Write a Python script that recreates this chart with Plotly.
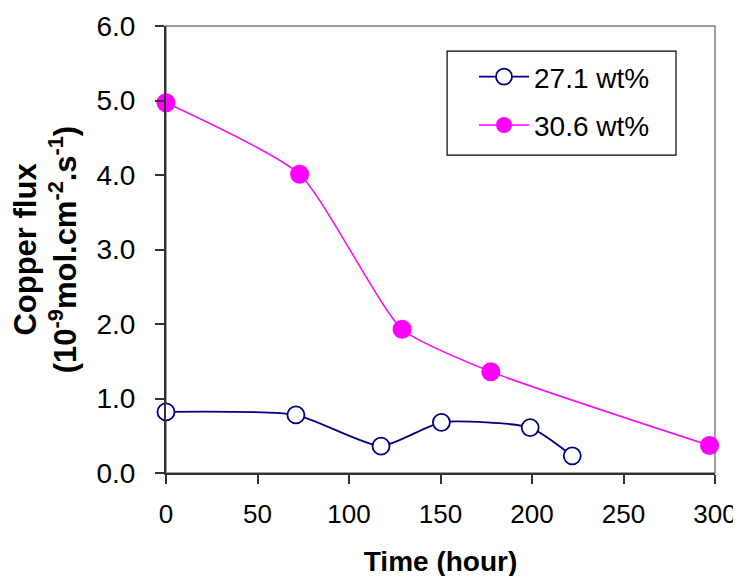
import plotly.graph_objects as go

# Data
time_271 = [0, 71, 117.5, 150.5, 199, 222]
flux_271 = [0.82, 0.78, 0.36, 0.68, 0.61, 0.23]

time_306 = [0, 73, 129, 177.5, 297]
flux_306 = [4.97, 4.01, 1.93, 1.36, 0.37]

x_ticks = [0, 50, 100, 150, 200, 250, 300]
y_ticks = [0, 1, 2, 3, 4, 5, 6]

FONT = "Arial, Liberation Sans, sans-serif"

fig = go.Figure()
fig.add_trace(go.Scatter(
    x=time_271, y=flux_271, name="27.1 wt%", mode="lines+markers",
    legendgroup="a",
    line=dict(color="#000080", width=1.8, shape="spline", smoothing=0.55),
    marker=dict(symbol="circle", size=17, color="white",
                line=dict(color="#000080", width=1.8)),
    cliponaxis=False,
))
fig.add_trace(go.Scatter(
    x=time_306, y=flux_306, name="30.6 wt%", mode="lines+markers",
    legendgroup="b",
    line=dict(color="#FF00FF", width=1.5, shape="spline", smoothing=0.55),
    marker=dict(symbol="circle", size=19, color="#FF00FF",
                line=dict(color="#FF00FF", width=0)),
    cliponaxis=False,
))

# gray frame (top/right)
fig.add_shape(type="rect", xref="paper", yref="paper", x0=0, y0=0, x1=1, y1=1,
              line=dict(color="#808080", width=1.5), layer="below")
# legend box
fig.add_shape(type="rect", xref="paper", yref="paper",
              x0=0.512, x1=0.929, y0=0.711, y1=0.944,
              line=dict(color="black", width=1.2), fillcolor="white", layer="below")

# page body adds an 8px offset, compensate in margins
fig.update_layout(
    width=741, height=576,
    margin=dict(l=158, r=34, t=18, b=111),
    paper_bgcolor="white", plot_bgcolor="white",
    font=dict(family=FONT, size=26, color="black"),
    showlegend=True,
    legend=dict(x=0.561, y=0.942, xanchor="left", yanchor="top",
                borderwidth=0, bgcolor="rgba(0,0,0,0)",
                font=dict(size=28, family=FONT), itemwidth=50,
                traceorder="grouped", tracegroupgap=9),
    xaxis=dict(
        range=[0, 300], tickvals=x_ticks, ticktext=[str(v) for v in x_ticks],
        showgrid=False, zeroline=False, showline=True,
        linecolor="#333333", linewidth=2, automargin=False,
        ticks="outside", ticklen=9, tickwidth=1.5, tickcolor="#333333",
        tickfont=dict(size=26), ticklabelstandoff=8,
        title=dict(text="<b>Time (hour)</b>", font=dict(size=28), standoff=23),
    ),
    yaxis=dict(
        range=[0, 6], tickvals=y_ticks, ticktext=[f"{v:.1f}" for v in y_ticks],
        showgrid=False, zeroline=False, showline=True,
        linecolor="#333333", linewidth=2, automargin=False,
        ticks="outside", ticklen=9, tickwidth=1.5, tickcolor="#333333",
        tickfont=dict(size=28), ticklabelstandoff=14,
        title=dict(text="<b>Copper flux<br>(10<sup>-9</sup>mol.cm<sup>-2</sup>.s<sup>-1</sup>)</b>",
                   font=dict(size=31), standoff=16),
    ),
)

fig.write_html("out.html")
